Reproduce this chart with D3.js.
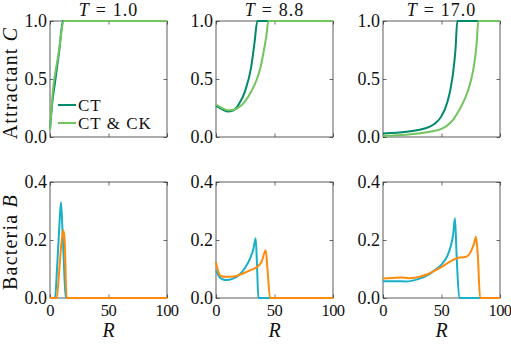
<!DOCTYPE html>
<html>
<head>
<meta charset="utf-8">
<script src="https://cdn.jsdelivr.net/npm/d3@7"></script>
<style>
  body { margin: 0; background: #fff; }
  svg text { font-family: "Liberation Serif", serif; fill: #111; }
</style>
</head>
<body>
<div id="chart"></div>
<script>
// time snapshots, one column per snapshot
const times = ["1.0", "8.8", "17.0"];

// attractant C vs R, [R, C] pairs
const attractCT = [
  [[0, 0.06], [2, 0.3], [4, 0.45], [6, 0.6], [8, 0.75], [11, 1.0], [100, 1.0]],
  [[0, 0.27], [5, 0.24], [10, 0.22], [15, 0.23], [20, 0.29], [25, 0.4], [30, 0.6], [33, 0.82], [35.3, 1.0], [100, 1.0]],
  [[0, 0.03], [20, 0.045], [30, 0.06], [40, 0.09], [45, 0.12], [50, 0.18], [55, 0.3], [58, 0.43], [60, 0.56], [62, 0.76], [63.5, 1.0], [100, 1.0]]
];
const attractCTCK = [
  [[0, 0.06], [3, 0.45], [4, 0.52], [7, 0.7], [12, 1.0], [100, 1.0]],
  [[0, 0.28], [5, 0.25], [10, 0.23], [15, 0.235], [20, 0.26], [25, 0.31], [30, 0.39], [35, 0.5], [38, 0.6], [41, 0.75], [43, 0.87], [44.8, 1.0], [100, 1.0]],
  [[0, 0.01], [20, 0.02], [30, 0.03], [40, 0.045], [50, 0.07], [55, 0.1], [60, 0.15], [65, 0.23], [70, 0.33], [75, 0.48], [78, 0.63], [80, 0.8], [81.5, 1.0], [100, 1.0]]
];

// bacteria B vs R, [R, B] pairs
const bactCT = [
  [[0, 0], [4.3, 0], [6, 0.1], [8, 0.25], [9.4, 0.33], [11, 0.2], [13.7, 0], [100, 0]],
  [[0, 0.095], [3, 0.072], [6, 0.064], [9, 0.062], [14, 0.066], [20, 0.08], [25, 0.105], [29, 0.135], [32, 0.17], [33.9, 0.206], [35, 0.12], [36.2, 0], [100, 0]],
  [[0, 0.058], [10, 0.058], [20, 0.057], [30, 0.065], [40, 0.083], [45, 0.098], [50, 0.115], [55, 0.145], [58, 0.18], [60, 0.22], [61.5, 0.275], [63, 0.14], [65.2, 0], [100, 0]]
];
const bactCTCK = [
  [[0, 0], [5.7, 0], [8, 0.1], [10, 0.2], [11.4, 0.234], [12.5, 0.2], [14.2, 0], [100, 0]],
  [[0, 0.123], [2, 0.09], [4, 0.076], [8, 0.073], [15, 0.074], [20, 0.08], [25, 0.088], [30, 0.097], [35, 0.107], [39, 0.125], [42.5, 0.165], [44, 0.1], [46.2, 0], [100, 0]],
  [[0, 0.067], [8, 0.069], [15, 0.071], [22, 0.068], [30, 0.072], [38, 0.082], [45, 0.096], [52, 0.112], [58, 0.127], [63, 0.137], [67, 0.14], [71, 0.142], [75, 0.16], [78, 0.19], [79.5, 0.211], [81, 0.15], [83, 0], [100, 0]]
];

const xTicks = [0, 50, 100];
const cTicks = [0, 0.5, 1.0];
const bTicks = [0, 0.2, 0.4];

const width = 511, height = 344;
const colLeft = [50, 216, 383];
const panelW = 117;
const rowTop = [21, 182];
const panelH = 116;

const colors = {ct: "#008a6c", ctck: "#72c45e", bct: "#18afc9", bctck: "#ff8a0c"};

const svg = d3.select("#chart").append("svg")
  .attr("width", width)
  .attr("height", height);

const line = (x, y) => d3.line()
  .x(d => x(d[0]))
  .y(d => y(d[1]))
  .curve(d3.curveMonotoneX);

function drawPanel(col, row, yDomain, yTicks, series, colorList, showX) {
  const x = d3.scaleLinear().domain([0, 100]).range([colLeft[col], colLeft[col] + panelW]);
  const y = d3.scaleLinear().domain(yDomain).range([rowTop[row] + panelH, rowTop[row]]);
  const g = svg.append("g");

  // inward ticks on all four sides
  const tk = 3.5;
  g.append("g").attr("transform", `translate(0,${y.range()[0]})`)
    .call(d3.axisTop(x).tickValues(xTicks).tickSize(tk).tickFormat(""));
  g.append("g").attr("transform", `translate(0,${y.range()[1]})`)
    .call(d3.axisBottom(x).tickValues(xTicks).tickSize(tk).tickFormat(""));
  g.append("g").attr("transform", `translate(${x.range()[0]},0)`)
    .call(d3.axisRight(y).tickValues(yTicks).tickSize(tk).tickFormat(""));
  g.append("g").attr("transform", `translate(${x.range()[1]},0)`)
    .call(d3.axisLeft(y).tickValues(yTicks).tickSize(tk).tickFormat(""));
  g.selectAll(".domain").remove();
  g.selectAll(".tick line").attr("stroke", "#444").attr("stroke-width", 0.8);

  g.append("rect")
    .attr("x", x.range()[0]).attr("y", y.range()[1])
    .attr("width", panelW).attr("height", panelH)
    .attr("fill", "none").attr("stroke", "#333").attr("stroke-width", 0.8);

  series.forEach((s, i) => {
    g.append("path")
      .datum(s)
      .attr("fill", "none")
      .attr("stroke", colorList[i])
      .attr("stroke-width", 2)
      .attr("stroke-linejoin", "round")
      .attr("d", line(x, y));
  });

  // tick labels
  g.selectAll(".ylab").data(yTicks).join("text")
    .attr("x", x.range()[0] - 3)
    .attr("y", d => y(d) + 6)
    .attr("text-anchor", "end")
    .attr("font-size", 18)
    .text(d => d.toFixed(1));

  if (showX) {
    g.selectAll(".xlab").data(xTicks).join("text")
      .attr("x", d => x(d))
      .attr("y", y.range()[0] + 18)
      .attr("text-anchor", "middle")
      .attr("font-size", 16.5)
      .attr("letter-spacing", -0.6)
      .text(d => d);
    g.append("text")
      .attr("x", (x.range()[0] + x.range()[1]) / 2)
      .attr("y", 337)
      .attr("text-anchor", "middle")
      .attr("font-size", 20)
      .attr("font-style", "italic")
      .text("R");
  }
  return {x, y};
}

times.forEach((t, i) => {
  drawPanel(i, 0, [0, 1], cTicks, [attractCT[i], attractCTCK[i]], [colors.ct, colors.ctck], false);
  drawPanel(i, 1, [0, 0.4], bTicks, [bactCT[i], bactCTCK[i]], [colors.bct, colors.bctck], true);

  const title = svg.append("text")
    .attr("x", colLeft[i] + panelW / 2)
    .attr("y", 16)
    .attr("text-anchor", "middle")
    .attr("font-size", 18);
  title.append("tspan").attr("font-style", "italic").text("T");
  title.append("tspan").attr("dx", 7).text("=");
  title.append("tspan").attr("dx", 7).attr("letter-spacing", 1).text(t);
});

// y axis labels
const yl1 = svg.append("text")
  .attr("transform", `translate(17,${rowTop[0] + panelH / 2 + 4}) rotate(-90)`)
  .attr("text-anchor", "middle")
  .attr("font-size", 20)
  .attr("letter-spacing", 1.2);
yl1.append("tspan").text("Attractant ");
yl1.append("tspan").attr("font-style", "italic").text("C");

const yl2 = svg.append("text")
  .attr("transform", `translate(17,${rowTop[1] + panelH / 2 + 2}) rotate(-90)`)
  .attr("text-anchor", "middle")
  .attr("font-size", 20)
  .attr("letter-spacing", 1.2);
yl2.append("tspan").text("Bacteria ");
yl2.append("tspan").attr("font-style", "italic").text("B");

// legend in first attractant panel
const legend = [
  {label: "CT", color: colors.ct, y: 105},
  {label: "CT & CK", color: colors.ctck, y: 123}
];
const lg = svg.append("g");
lg.selectAll("line").data(legend).join("line")
  .attr("x1", 58).attr("x2", 76)
  .attr("y1", d => d.y).attr("y2", d => d.y)
  .attr("stroke", d => d.color).attr("stroke-width", 2);
lg.selectAll("text").data(legend).join("text")
  .attr("x", 78).attr("y", d => d.y + 6)
  .attr("font-size", 17)
  .attr("letter-spacing", 1)
  .text(d => d.label);
</script>
</body>
</html>
